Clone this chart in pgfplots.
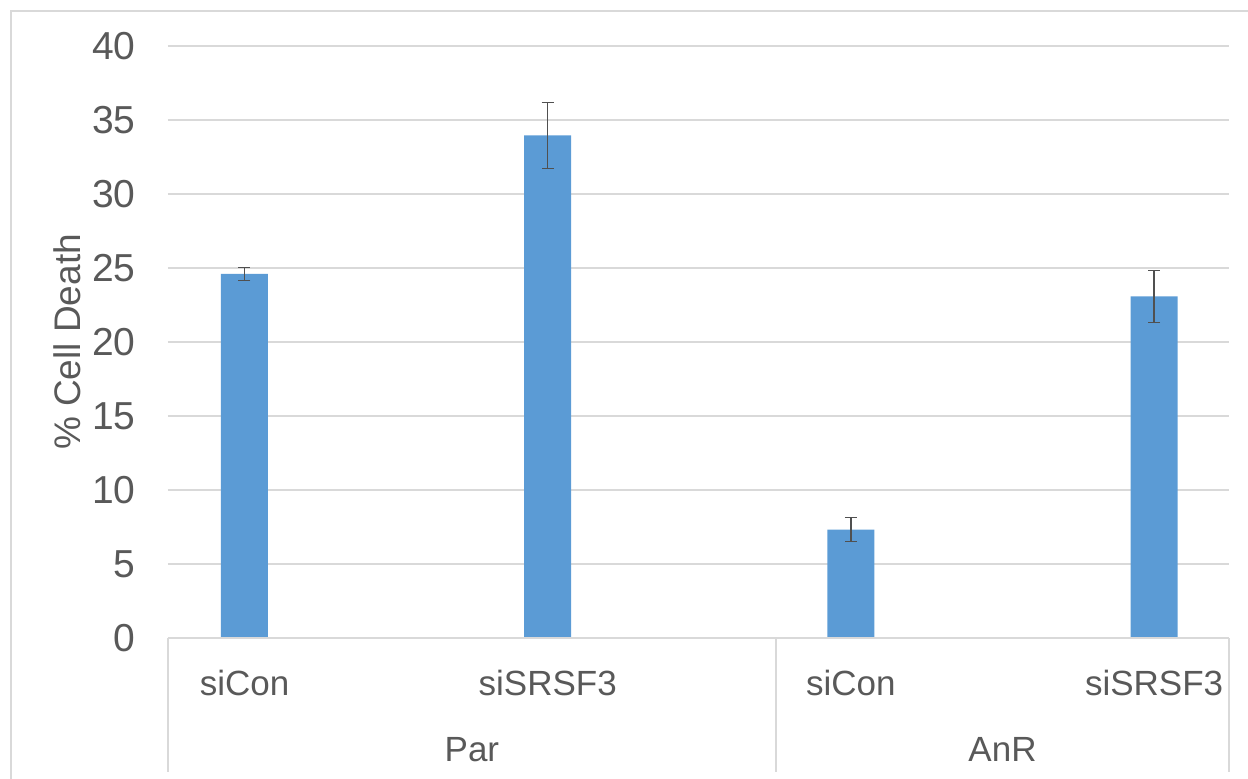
\documentclass[border=0pt]{standalone}
\usepackage{pgfplots}
\pgfplotsset{compat=1.18}
\usepackage{fontspec}
\setmainfont{Liberation Sans}
\definecolor{barblue}{HTML}{5B9BD5}
\definecolor{txtgray}{HTML}{595959}
\definecolor{linegray}{HTML}{D9D9D9}
\definecolor{errgray}{HTML}{505050}
\begin{document}
\begin{tikzpicture}
\useasboundingbox (-84pt,-70pt) rectangle (540pt,319pt);
\clip (-84pt,-70pt) rectangle (540pt,319pt);
% outer chart border (cut off at right and bottom)
\draw[linegray, line width=0.75pt] (-78.5pt,-100pt) -- (-78.5pt,313.5pt) -- (600pt,313.5pt);
\begin{axis}[
  at={(0,0)}, anchor=south west,
  scale only axis, width=530.5pt, height=296pt,
  ymin=0, ymax=40, ytick={0,5,...,40},
  xmin=-0.2523, xmax=3.247,
  xtick={0,1,2,3},
  xticklabels={siCon,siSRSF3,siCon,siSRSF3},
  axis line style={draw=none},
  major tick length=0pt,
  ymajorgrids, grid style={linegray, line width=0.75pt},
  /pgf/number format/assume math mode=true,
  yticklabel style={font=\fontsize{19.5}{20}\selectfont, text=txtgray, inner sep=0pt, xshift=-16pt},
  xticklabel style={font=\fontsize{17.5}{18}\selectfont, text=txtgray, inner sep=0pt, anchor=base, yshift=-28.75pt},
  ylabel={\% Cell Death},
  ylabel style={at={(axis description cs:-0.0829,0.5)}, anchor=base,
    font=\fontsize{18.5}{19}\selectfont, text=txtgray, inner sep=0pt},
  ybar, bar width=23.5pt,
  clip=false,
]
\addplot[fill=barblue, draw=none,
  error bars/.cd, y dir=both, y explicit,
  error bar style={color=errgray, line width=0.75pt},
  error mark options={rotate=90, color=errgray, line width=0.75pt, mark size=3pt}]
  coordinates {
    (0,24.6)  +- (0,0.44)
    (1,33.96) +- (0,2.22)
    (2,7.33)  +- (0,0.81)
    (3,23.08) +- (0,1.75)
  };
% category axis box
\draw[linegray, line width=0.75pt] (axis cs:-0.2523,0) -- (axis cs:3.247,0);
\draw[linegray, line width=0.75pt] (axis cs:-0.2523,0) -- ([yshift=-67pt]axis cs:-0.2523,0);
\draw[linegray, line width=0.75pt] (axis cs:1.753,0) -- ([yshift=-67pt]axis cs:1.753,0);
\draw[linegray, line width=0.75pt] (axis cs:3.247,0) -- ([yshift=-67pt]axis cs:3.247,0);
\node[anchor=base, inner sep=0pt, text=txtgray, font=\fontsize{17.5}{18}\selectfont]
  at ([yshift=-61.75pt]axis cs:0.75,0) {Par};
\node[anchor=base, inner sep=0pt, text=txtgray, font=\fontsize{17.5}{18}\selectfont]
  at ([yshift=-61.75pt]axis cs:2.5,0) {AnR};
\end{axis}
\end{tikzpicture}
\end{document}
